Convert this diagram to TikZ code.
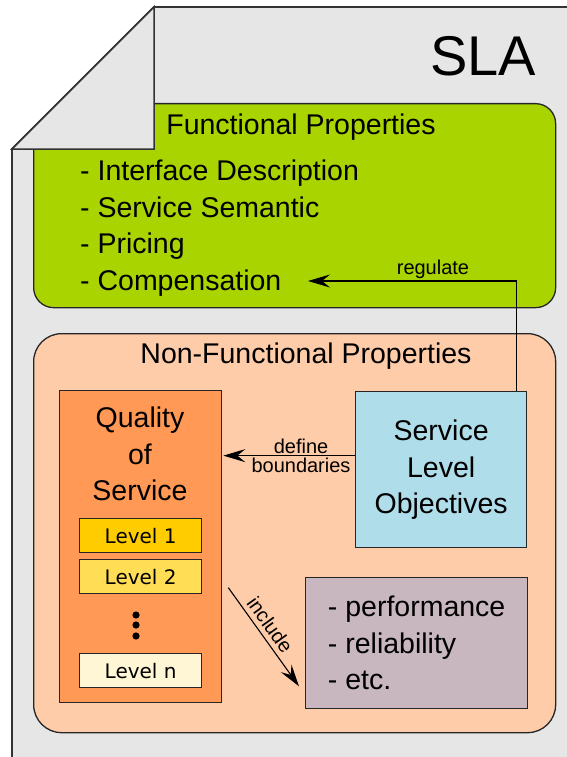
\documentclass[tikz,border=0pt]{standalone}
\usepackage{fontspec}
\setmainfont{Liberation Sans}
\newfontfamily\levelfont{DejaVu Sans}
\usetikzlibrary{arrows.meta,positioning,calc}

\definecolor{pagegray}{HTML}{E6E6E6}
\definecolor{funcgreen}{HTML}{AAD400}
\definecolor{nfpeach}{HTML}{FFCCAA}
\definecolor{qosorange}{HTML}{FF9955}
\definecolor{slocyan}{HTML}{AFDDE9}
\definecolor{metricmauve}{HTML}{C8B7BE}
\definecolor{lvlone}{HTML}{FFCC00}
\definecolor{lvltwo}{HTML}{FFDD55}
\definecolor{lvln}{HTML}{FFF6D5}

\begin{document}
\begin{tikzpicture}[x=1pt,y=-1pt,
    box/.style={draw=black!85,line width=1.3pt,inner sep=0pt,anchor=north west},
    bigtxt/.style={inner sep=0pt,font=\fontsize{28.5}{36.5}\selectfont},
    smalltxt/.style={inner sep=1.5pt,font=\fontsize{20}{22}\selectfont},
    lvlbox/.style={box,fill=#1,minimum width=122pt,minimum height=34pt,
        font=\levelfont\fontsize{20}{22}\selectfont},
    arr/.style={-{Stealth[length=22pt,width=13pt,inset=8pt]},line width=1.1pt}]

    \useasboundingbox (0,0) rectangle (566,757);

    % Page with folded corner
    \fill[pagegray] (154,7) -- (570,7) -- (570,760) -- (12,760) -- (12,149) -- cycle;
    \node[font=\fontsize{56}{60}\selectfont,inner sep=0pt,anchor=base] (sla) at (483,76) {SLA};

    % Functional properties (kept inside the page)
    \begin{scope}
        \clip (154,7) -- (570,7) -- (570,760) -- (12,760) -- (12,149) -- cycle;
        \node[box,fill=funcgreen,rounded corners=20pt,minimum width=522pt,minimum height=204pt] (func) at (33,103) {};
    \end{scope}
    \draw[black!80,line width=1.8pt] (570,7) -- (154,7) -- (12,149) -- (12,760);
    \filldraw[fill=pagegray,draw=black!80,line width=1.5pt] (12,149) -- (154,7) -- (154,149) -- cycle;
    \node[bigtxt,anchor=base] (functitle) at (301,135) {Functional Properties};
    \node[bigtxt,anchor=base west] (iface) at (80,180) {- Interface Description};
    \node[bigtxt,anchor=base west] (semantic) at (80,217) {- Service Semantic};
    \node[bigtxt,anchor=base west] (pricing) at (80,253) {- Pricing};
    \node[bigtxt,anchor=base west] (comp) at (80,290) {- Compensation};
    \coordinate (regend) at (308,281);

    % Non-functional properties
    \node[box,fill=nfpeach,rounded corners=28pt,minimum width=522pt,minimum height=399pt] (nf) at (33,333) {};
    \node[bigtxt,anchor=base] (nftitle) at (306,363) {Non-Functional Properties};

    % Quality of service with its levels
    \node[box,fill=qosorange,minimum width=162pt,minimum height=312pt] (qos) at (59,390) {};
    \node[bigtxt,align=center,anchor=north] (qostxt) at (140,407) {Quality\\of\\Service};
    \node[lvlbox=lvlone] (lvl1) at (79,518) {Level 1};
    \node[lvlbox=lvltwo] (lvl2) at (79,559) {Level 2};
    \node[lvlbox=lvln] (lvln) at (79,653) {Level n};
    \foreach \y in {615,625,636}
        \fill (136,\y) circle (3.6pt);

    % Service level objectives
    \node[box,bigtxt,fill=slocyan,align=center,minimum width=171pt,minimum height=156pt] (slo) at (355,391) {Service\\Level\\Objectives};

    % Metrics
    \node[box,bigtxt,fill=metricmauve,align=left,minimum width=222pt,minimum height=131pt] (metrics) at (305,577) {- performance\\- reliability\\- etc.};

    % Connectors
    \draw[arr] ([xshift=-11pt]slo.north east) |- node[smalltxt,above,pos=0.7] {regulate} (regend);
    \draw[arr] ([yshift=14pt]slo.west) -- ([xshift=1pt,yshift=14pt]slo.west -| qos.east)
        node[smalltxt,above,pos=0.41] {define}
        node[smalltxt,below,pos=0.41] {boundaries};
    \draw[arr] ([xshift=6pt,yshift=-41pt]qos.east) -- node[smalltxt,above=3pt,sloped,pos=0.45] {include} ([xshift=-6pt,yshift=23pt]metrics.south west);
\end{tikzpicture}
\end{document}
